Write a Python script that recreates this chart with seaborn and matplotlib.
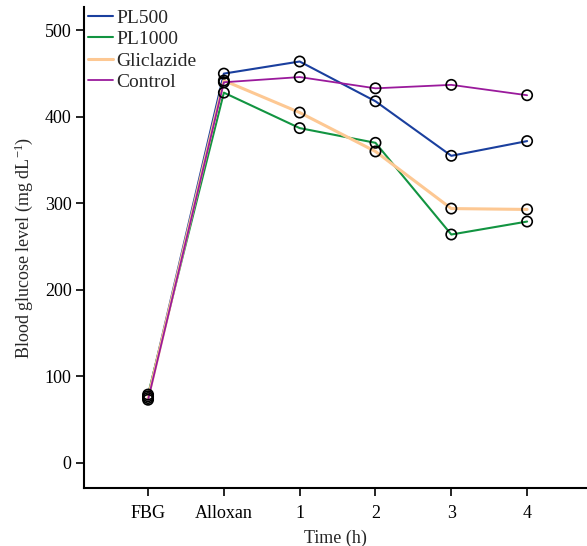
import matplotlib
matplotlib.use("Agg")
import matplotlib.pyplot as plt
import seaborn as sns
import pandas as pd
import numpy as np

time_labels = ["FBG", "Alloxan", "1", "2", "3", "4"]
pl500 = [77, 450, 464, 418, 355, 372]
pl1000 = [79, 428, 387, 370, 264, 279]
gliclazide = [75, 442, 405, 360, 294, 293]
control = [73, 440, 446, 433, 437, 425]

series = {"PL500": pl500, "PL1000": pl1000, "Gliclazide": gliclazide, "Control": control}
colors = {"PL500": "#1a3f9e", "PL1000": "#129441", "Gliclazide": "#fdc893", "Control": "#9a1a9c"}
widths = {"PL500": 1.5, "PL1000": 1.5, "Gliclazide": 2.2, "Control": 1.3}

rows = []
for name, vals in series.items():
    for i, v in enumerate(vals):
        rows.append({"group": name, "x": i, "value": v})
df = pd.DataFrame(rows)

sns.set_style("ticks")
plt.rcParams["font.family"] = ["Liberation Serif", "DejaVu Serif"]
plt.rcParams["mathtext.fontset"] = "custom"
plt.rcParams["mathtext.rm"] = "Liberation Serif"
plt.rcParams["mathtext.it"] = "Liberation Serif:italic"

fig = plt.figure(figsize=(5.87, 5.46), dpi=100)
ax = fig.add_axes([84/587, 58/546, 1 - 84/587, (488-7)/546])

for name in series:
    sub = df[df["group"] == name]
    sns.lineplot(data=sub, x="x", y="value", ax=ax, color=colors[name],
                 linewidth=widths[name], label=name, zorder=2)
for name in series:
    sub = df[df["group"] == name]
    ax.scatter(sub["x"], sub["value"], s=55, facecolors="none",
               edgecolors="black", linewidths=1.2, zorder=3)

ax.set_xlim(-0.845, 5.79)
ax.set_ylim(-29, 527)
ax.set_xticks(range(len(time_labels)))
ax.set_xticklabels(time_labels)
ax.set_yticks([0, 100, 200, 300, 400, 500])
ax.set_xlabel("Time (h)", fontsize=13, labelpad=5)
ax.set_ylabel("Blood glucose level (mg dL$^{-1}$)", fontsize=13, labelpad=7)
ax.tick_params(axis="both", labelsize=13, length=5.5, width=1.2, direction="out", colors="black")
ax.tick_params(axis="x", pad=7)
for side in ["top", "right"]:
    ax.spines[side].set_visible(False)
for side in ["left", "bottom"]:
    ax.spines[side].set_linewidth(1.5)
    ax.spines[side].set_color("black")

leg = ax.legend(loc="upper left", bbox_to_anchor=(-0.004, 1.008), frameon=False,
                fontsize=14, handlelength=1.3, handletextpad=0.15,
                labelspacing=0.2, borderaxespad=0.2, borderpad=0.1)

fig.savefig("out.png", dpi=100)
